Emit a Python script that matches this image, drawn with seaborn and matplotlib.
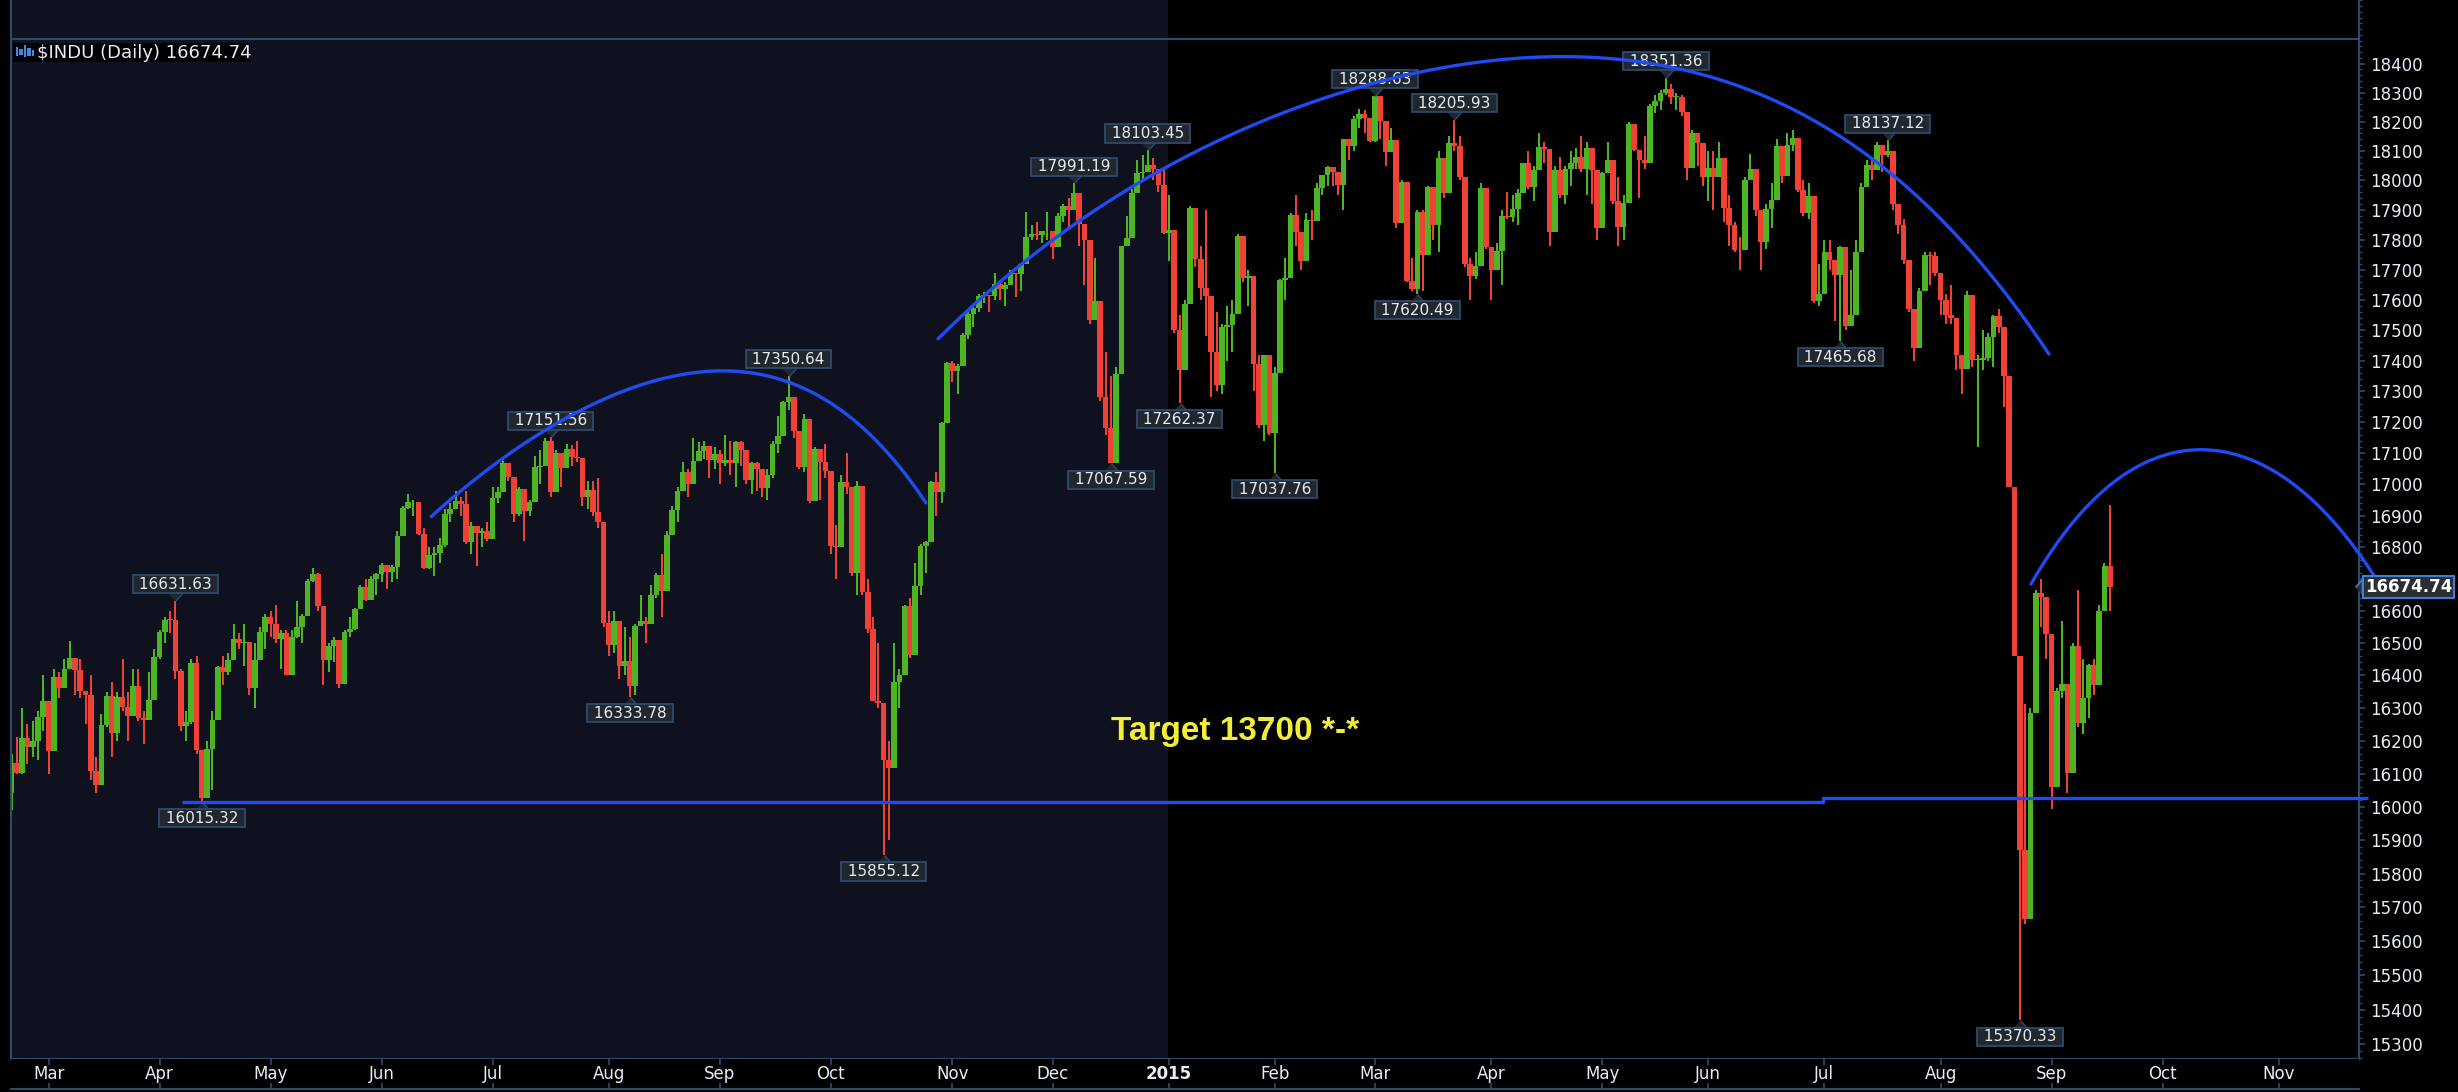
import numpy as np
import pandas as pd
import matplotlib
matplotlib.use("Agg")
import matplotlib.pyplot as plt
import matplotlib.transforms as mtransforms
from matplotlib.patches import Rectangle
from matplotlib.ticker import FixedLocator, FixedFormatter, NullFormatter
import seaborn as sns

# ---------------------------------------------------------------- data
first_session = "2014-02-20"
axis_last_day = "2015-11-30"
market_holidays = ["2014-04-18", "2014-05-26", "2014-07-04", "2014-09-01", "2014-11-27",
                   "2014-12-25", "2015-01-01", "2015-01-19", "2015-02-16", "2015-04-03",
                   "2015-05-25", "2015-07-03", "2015-09-07", "2015-11-26"]
first_open = 16040.0

closes = [
    16133, 16103, 16207, 16179, 16198, 16272, 16321,
    16168, 16395, 16360, 16421, 16453, 16418, 16351, 16340, 16109, 16065, 16247, 16337, 16223, 16332, 16303, 16276, 16368, 16269, 16264, 16323, 16458,
    16533, 16573, 16572, 16413, 16246, 16256, 16438, 16171, 16027, 16174, 16263, 16425, 16409, 16449, 16514, 16501, 16502, 16361, 16448, 16535, 16581,
    16558, 16513, 16531, 16402, 16518, 16551, 16584, 16695, 16715, 16614, 16447, 16491, 16511, 16374, 16533, 16543, 16606, 16676, 16634, 16699, 16717,
    16743, 16722, 16737, 16836, 16924, 16943, 16945, 16843, 16734, 16776, 16781, 16808, 16906, 16921, 16947, 16937, 16818, 16868, 16846, 16851, 16827,
    16956, 16976, 17068, 17024, 16906, 16985, 16915, 16944, 17055, 17060, 17138, 16976, 17100, 17052, 17113, 17087, 17083, 16961, 16982, 16912, 16881, 16563,
    16493, 16569, 16429, 16443, 16368, 16553, 16569, 16560, 16651, 16713, 16662, 16839, 16919, 16979, 17039, 17001, 17076, 17106, 17122, 17079, 17098,
    17067, 17078, 17069, 17137, 17111, 17014, 17068, 17049, 16988, 17031, 17131, 17156, 17266, 17280, 17173, 17056, 17211, 16946, 17113, 17071, 17043,
    16805, 16802, 17009, 16992, 16720, 16994, 16660, 16544, 16321, 16316, 16142, 16117, 16380, 16400, 16615, 16462, 16677, 16805, 16818, 17006, 16975, 17196, 17391,
    17366, 17384, 17485, 17554, 17573, 17614, 17615, 17612, 17652, 17635, 17648, 17688, 17686, 17719, 17810, 17818, 17815, 17828, 17828,
    17777, 17880, 17912, 17900, 17959, 17853, 17801, 17533, 17597, 17281, 17180, 17069, 17356, 17778, 17805, 17959, 18024, 18030, 18053, 18038, 17983, 17823,
    17833, 17501, 17371, 17585, 17908, 17737, 17640, 17613, 17427, 17321, 17512, 17516, 17554, 17813, 17672, 17679, 17388, 17191, 17417, 17165,
    17361, 17666, 17673, 17885, 17825, 17729, 17868, 17863, 17973, 18019, 18047, 18029, 17986, 18140, 18117, 18209, 18225, 18214, 18133,
    18288, 18204, 18097, 18136, 17857, 17996, 17662, 17635, 17895, 17749, 17977, 17849, 18076, 17959, 18128, 18116, 18012, 17718, 17679, 17712, 17976, 17776,
    17698, 17763, 17881, 17875, 17902, 17958, 18058, 17977, 18036, 18113, 18106, 17826, 18034, 17950, 18039, 18058, 18080, 18038, 18110, 18036, 17841,
    18024, 18070, 17929, 17842, 17925, 18191, 18105, 18068, 18060, 18253, 18272, 18298, 18312, 18285, 18285, 18232, 18042, 18163, 18126, 18011,
    18041, 18011, 18077, 17906, 17849, 17766, 17765, 18000, 18039, 17899, 17792, 17905, 17935, 18116, 18015, 18120, 18144, 17967, 17891, 17947, 17597, 17620,
    17758, 17731, 17684, 17776, 17515, 17549, 17761, 17978, 18054, 18035, 18120, 18086, 18101, 17920, 17851, 17732, 17569, 17441, 17631, 17751, 17746, 17690,
    17599, 17551, 17541, 17419, 17373, 17615, 17402, 17403, 17409, 17477, 17546, 17512, 17349, 16991, 16460, 15871, 15666, 16285, 16655, 16643, 16528,
    16058, 16351, 16374, 16102, 16492, 16253, 16330, 16433, 16370, 16599, 16740, 16675,
]

highs = [
    16160, 16210, 16300, 16250, 16260, 16290, 16400,
    16321, 16420, 16410, 16450, 16505, 16453, 16450, 16350, 16400, 16150, 16280, 16350, 16380, 16350, 16450, 16350, 16420, 16420, 16290, 16410, 16480,
    16540, 16580, 16600, 16631.63, 16420, 16290, 16450, 16460, 16170, 16200, 16290, 16430, 16460, 16470, 16560, 16530, 16560, 16500, 16500, 16550, 16590,
    16600, 16620, 16540, 16540, 16540, 16630, 16590, 16700, 16735, 16720, 16614, 16500, 16520, 16510, 16540, 16580, 16610, 16680, 16700, 16710, 16720,
    16750, 16743, 16745, 16850, 16930, 16970, 16950, 16945, 16860, 16800, 16800, 16830, 16920, 16940, 16980, 16960, 16980, 16880, 16868, 16860, 16880,
    16990, 16990, 17075, 17068, 17024, 16990, 16985, 16950, 17090, 17110, 17150, 17151.56, 17110, 17100, 17130, 17125, 17140, 17083, 17010, 17010, 17020, 16881,
    16600, 16600, 16569, 16550, 16520, 16560, 16650, 16580, 16680, 16720, 16780, 16850, 16930, 16990, 17070, 17050, 17150, 17135, 17140, 17122, 17120,
    17110, 17160, 17140, 17140, 17140, 17111, 17070, 17070, 17049, 17050, 17140, 17220, 17270, 17350.64, 17280, 17173, 17225, 17211, 17120, 17080, 17130,
    17043, 16870, 17030, 17100, 16992, 17010, 16994, 16700, 16580, 16500, 16316, 16200, 16500, 16420, 16620, 16640, 16750, 16810, 16820, 17010, 17040, 17200, 17395,
    17400, 17390, 17490, 17560, 17580, 17620, 17625, 17615, 17690, 17660, 17660, 17700, 17690, 17720, 17895, 17850, 17860, 17830, 17895,
    17828, 17890, 17920, 17940, 17991.19, 17959, 17853, 17801, 17740, 17597, 17430, 17350, 17380, 17780, 17880, 17970, 18070, 18086, 18103.45, 18075, 18038, 18040,
    17950, 17833, 17550, 17600, 17915, 17908, 17780, 17900, 17613, 17560, 17520, 17580, 17600, 17820, 17813, 17700, 17679, 17420, 17420, 17400,
    17380, 17670, 17740, 17890, 17950, 17825, 17890, 17900, 17990, 18020, 18050, 18047, 18030, 18140, 18140, 18220, 18245, 18240, 18214,
    18288.63, 18288, 18204, 18180, 18136, 18000, 17996, 17740, 17900, 17900, 17980, 17977, 18100, 18076, 18150, 18205.93, 18150, 18012, 17740, 17760, 17990, 17976,
    17776, 17790, 17900, 17960, 17950, 17970, 18060, 18100, 18050, 18160, 18130, 18106, 18050, 18080, 18050, 18100, 18110, 18150, 18130, 18110, 18036,
    18030, 18130, 18070, 18010, 17950, 18200, 18191, 18105, 18150, 18260, 18290, 18310, 18351.36, 18330, 18300, 18290, 18232, 18170, 18163, 18126,
    18100, 18100, 18130, 18077, 17950, 17860, 17810, 18010, 18090, 18039, 17899, 17920, 17990, 18140, 18116, 18160, 18170, 18144, 18000, 17990, 17947, 17720,
    17800, 17800, 17731, 17780, 17776, 17700, 17800, 17990, 18070, 18080, 18130, 18120, 18137.12, 18101, 17920, 17870, 17732, 17569, 17640, 17760, 17760, 17760,
    17690, 17620, 17650, 17541, 17419, 17630, 17615, 17420, 17500, 17490, 17550, 17570, 17512, 17349, 16991, 16460, 16312, 16300, 16666, 16700, 16643,
    16528, 16360, 16570, 16374, 16500, 16665, 16450, 16435, 16450, 16620, 16750, 16933,
]

lows = [
    15990, 16100, 16100, 16130, 16150, 16140, 16230,
    16100, 16170, 16330, 16360, 16420, 16340, 16330, 16250, 16080, 16040, 16065, 16240, 16150, 16200, 16290, 16200, 16280, 16260, 16190, 16264, 16323,
    16450, 16500, 16530, 16390, 16230, 16200, 16250, 16160, 16015.32, 16027, 16050, 16265, 16370, 16400, 16450, 16480, 16430, 16340, 16300, 16448, 16480,
    16520, 16500, 16420, 16400, 16400, 16515, 16500, 16584, 16690, 16600, 16370, 16410, 16440, 16360, 16375, 16520, 16540, 16606, 16630, 16634, 16650,
    16690, 16670, 16690, 16700, 16836, 16920, 16900, 16840, 16730, 16730, 16710, 16750, 16800, 16880, 16920, 16900, 16810, 16780, 16740, 16800, 16820,
    16827, 16940, 16976, 17010, 16880, 16900, 16820, 16900, 16944, 17000, 17060, 16960, 16976, 16990, 17052, 17060, 17070, 16930, 16920, 16900, 16860, 16550,
    16460, 16470, 16390, 16400, 16333.78, 16340, 16553, 16500, 16560, 16640, 16580, 16662, 16839, 16880, 16979, 16960, 17001, 17076, 17080, 17020, 17050,
    17000, 17060, 17030, 16990, 17060, 17000, 16970, 16980, 16960, 16950, 17020, 17100, 17156, 17240, 17150, 17050, 17040, 16940, 16946, 16950, 17020,
    16780, 16700, 16802, 16970, 16710, 16650, 16650, 16530, 16320, 16300, 15855.12, 15900, 16117, 16300, 16400, 16455, 16462, 16650, 16720, 16818, 16900, 16940, 17250,
    17330, 17290, 17384, 17470, 17510, 17560, 17590, 17560, 17600, 17600, 17580, 17648, 17610, 17630, 17719, 17800, 17800, 17790, 17800,
    17735, 17777, 17860, 17840, 17900, 17780, 17650, 17520, 17533, 17270, 17160, 17067.59, 17069, 17356, 17778, 17805, 17959, 18000, 18030, 18000, 17960, 17820,
    17730, 17490, 17262.37, 17371, 17585, 17710, 17600, 17480, 17280, 17300, 17290, 17400, 17430, 17554, 17660, 17580, 17300, 17180, 17140, 17160,
    17037.76, 17361, 17600, 17673, 17780, 17700, 17729, 17800, 17863, 17950, 17980, 17980, 17950, 17900, 18070, 18100, 18180, 18160, 18130,
    18130, 18140, 18050, 18097, 17840, 17857, 17660, 17630, 17620.49, 17630, 17749, 17800, 17760, 17940, 17959, 18100, 18000, 17710, 17600, 17670, 17712, 17770,
    17600, 17698, 17650, 17870, 17860, 17850, 17958, 17970, 17930, 18036, 18060, 17780, 17826, 17940, 17920, 17980, 18040, 18030, 17950, 17920, 17800,
    17841, 18024, 17920, 17780, 17800, 17925, 18100, 17940, 18040, 18060, 18230, 18240, 18290, 18260, 18240, 18220, 18000, 18042, 18050, 17980,
    17930, 17900, 18011, 17860, 17780, 17760, 17700, 17765, 18000, 17880, 17700, 17770, 17840, 17935, 17990, 18015, 18100, 17960, 17880, 17870, 17590, 17580,
    17620, 17700, 17530, 17465.68, 17500, 17515, 17549, 17761, 17978, 18000, 18035, 18030, 18080, 17900, 17820, 17720, 17560, 17400, 17441, 17631, 17650, 17680,
    17550, 17520, 17520, 17370, 17290, 17373, 17380, 17120, 17370, 17400, 17380, 17490, 17250, 16990, 16460, 15370.33, 15651, 15666, 16285, 16550, 16450,
    15993, 16058, 16330, 16040, 16102, 16240, 16220, 16270, 16340, 16370, 16599, 16600,
]

label_dates = ["2014-04-04", "2014-04-11", "2014-07-17", "2014-08-07", "2014-09-19", "2014-10-15",
               "2014-12-05", "2014-12-16", "2014-12-26", "2015-01-06", "2015-02-02", "2015-03-02",
               "2015-03-12", "2015-03-23", "2015-05-19", "2015-07-07", "2015-07-20", "2015-08-24"]
label_values = [16631.63, 16015.32, 17151.56, 16333.78, 17350.64, 15855.12,
                17991.19, 17067.59, 18103.45, 17262.37, 17037.76, 18288.63,
                17620.49, 18205.93, 18351.36, 17465.68, 18137.12, 15370.33]
label_sides = ["high", "low", "high", "low", "high", "low",
               "high", "low", "high", "low", "low", "high",
               "low", "high", "high", "low", "high", "low"]

last_price = 16674.74
ticker_title = "$INDU (Daily) 16674.74"
target_text = "Target 13700 *-*"
target_date = "2014-12-16"
target_price = 16203

price_ticks = list(range(15300, 18401, 100))
hidden_tick = 16700   # covered by the last-price tag in the reference

# hand-drawn annotation lines (trading-day index, price)
support_x = [32.2, 342.75, 342.75, 445.9]
support_p = [16015.32, 16015.32, 16027, 16027]
arc1_x = [79.4, 100.5, 130.9, 154.6, 173.0]
arc1_p = [16897, 17169, 17364, 17266, 16941]
arc2_x = [175.3, 197.05, 215.9, 254.95, 290.55, 312.85, 351.25, 370.8, 385.5]
arc2_p = [17468, 17811, 18013, 18309, 18436, 18395, 18058, 17788, 17412]
arc3_x = [382.1, 398.3, 416.0, 429.8, 447.75]
arc3_p = [16684, 17014, 17110, 17024, 16691]

# ---------------------------------------------------------------- style
W, H = 2458, 1092
NAVY = "#0f121e"
BORDER = "#2b4b6e"
GREEN = "#4db524"
RED = "#ef4136"
BLUE = "#1f4cf2"
TXT = "#e6edf5"
BOXFC = "#22262d"

sns.set_theme(style="dark", rc={"axes.facecolor": "black", "figure.facecolor": "black"})
plt.rcParams["font.family"] = ["DejaVu Sans"]

sess = pd.bdate_range(first_session, axis_last_day)
sess = sess[~sess.isin(pd.to_datetime(market_holidays))]
pos = np.arange(len(sess), dtype=float)

c = np.array(closes, dtype=float)
h = np.array(highs, dtype=float)
l = np.array(lows, dtype=float)
n = len(c)
x = pos[:n]
o = np.r_[first_open, c[:-1]]
h = np.maximum(h, np.maximum(o, c))
l = np.minimum(l, np.minimum(o, c))
col = np.where(c >= o, GREEN, RED)

fig = plt.figure(figsize=(W / 100, H / 100), dpi=100, facecolor="black")
ax = fig.add_axes([11 / W, (H - 1059) / H, 2348 / W, 1059 / H])
ax.set_facecolor("black")
ax.set_yscale("log")
x_left = 7 + (11 - 48.6) / 5.285
x_right = x_left + 2348 / 5.285
ax.set_xlim(x_left, x_right)
ax.set_ylim(15258.3, 18621.4)
ax.grid(False)

pos_2015 = pos[np.argmax(sess.year == 2015)]
ax.axvspan(x_left, pos_2015 - 0.1, color=NAVY, lw=0, zorder=0)

# candles
ax.vlines(x, l, h, colors=col, lw=1.45, zorder=2)
ax.bar(x, np.maximum(np.abs(c - o), 2.0), bottom=np.minimum(o, c), width=1.08,
       color=col, linewidth=0, zorder=2.2)

# spines / axes
for s in ["left", "right", "bottom"]:
    ax.spines[s].set_visible(True)
    ax.spines[s].set_color(BORDER)
    ax.spines[s].set_linewidth(1.5)
ax.spines["top"].set_visible(False)
ax.plot([0, 1], [1 - 39 / 1059] * 2, transform=ax.transAxes, color=BORDER, lw=1.5,
        clip_on=False, zorder=1)

ax.yaxis.tick_right()
ax.yaxis.set_major_locator(FixedLocator(price_ticks))
ax.yaxis.set_major_formatter(FixedFormatter(["" if v == hidden_tick else str(v)
                                             for v in price_ticks]))
ax.yaxis.set_minor_locator(FixedLocator(np.arange(15260, 18621, 20)))
ax.yaxis.set_minor_formatter(NullFormatter())
ax.tick_params(axis="y", which="major", direction="out", length=4, width=1.2, color=BORDER,
               labelcolor=TXT, labelsize=12, pad=4, right=True, left=False,
               labelright=True, labelleft=False)
ax.tick_params(axis="y", which="minor", direction="out", length=2.5, width=1.0,
               color=BORDER, right=True, left=False)

# support line and arcs
ax.plot(support_x, support_p, color=BLUE, lw=2.4, clip_on=False, zorder=5,
        solid_capstyle="butt")
for ax_x, ax_p in [(arc1_x, arc1_p), (arc2_x, arc2_p), (arc3_x, arc3_p)]:
    poly = np.polynomial.Polynomial.fit(ax_x, np.log(ax_p), deg=4)
    xx = np.linspace(ax_x[0], ax_x[-1], 400)
    yy = np.exp(poly(xx))
    sns.lineplot(x=xx, y=yy, ax=ax, color=BLUE, lw=2.4, sort=False, estimator=None,
                 legend=False, clip_on=False, zorder=5)
ax.set_xlabel("")
ax.set_ylabel("")

# swing labels
for d, v, side in zip(label_dates, label_values, label_sides):
    xp = pos[sess.get_loc(pd.Timestamp(d))]
    if side == "high":
        verts = [(-9, 10), (9, 10), (0, 0)]
        off, va = 9, "bottom"
    else:
        verts = [(-9, -10), (9, -10), (0, 0)]
        off, va = -9, "top"
    ax.plot([xp], [v], ls="none", marker=verts, ms=14.4, mfc=BOXFC, mec=BORDER, mew=1.0,
            zorder=4, clip_on=False)
    ax.annotate(f" {v:.2f} ", (xp, v), xytext=(0, off), textcoords="offset pixels",
                ha="center", va=va, fontsize=11, color=TXT, zorder=4.5,
                bbox=dict(boxstyle="square,pad=0.1", fc=BOXFC, ec=BORDER, lw=1.3))

# last price tag
ptr = mtransforms.offset_copy(ax.transData, fig=fig, x=3, y=0, units="dots")
ax.plot([x_right], [last_price], ls="none", marker=[(0, -8), (0, 8), (-7, 0)], ms=11.5,
        mfc="#2a2d33", mec="#3b7fd4", mew=1.2, transform=ptr, clip_on=False, zorder=9)
ax.annotate(f"{last_price:.2f}", xy=(1, last_price), xycoords=("axes fraction", "data"),
            xytext=(6, 0), textcoords="offset pixels", ha="left", va="center",
            fontsize=12, fontweight="bold", color="white", zorder=10, annotation_clip=False,
            bbox=dict(boxstyle="square,pad=0.12", fc="#2a2d33", ec="#3b7fd4", lw=1.5))

# target text
ax.text(pos[sess.get_loc(pd.Timestamp(target_date))], target_price, target_text,
        fontsize=24, fontweight="bold", family=["Liberation Sans", "DejaVu Sans"],
        color="#f2ec3c", ha="left", va="baseline", zorder=6)

# month strip
axs = fig.add_axes([11 / W, (H - 1089) / H, 2348 / W, 30 / H], sharex=ax)
axs.set_facecolor("black")
axs.set_yticks([])
axs.grid(False)
for s in ["left", "right", "top"]:
    axs.spines[s].set_visible(False)
axs.spines["bottom"].set_visible(True)
axs.spines["bottom"].set_color(BORDER)
axs.spines["bottom"].set_linewidth(1.5)
months = pd.period_range("2014-03", "2015-11", freq="M")
sess_months = sess.to_period("M")
month_pos = [pos[np.argmax(sess_months == m)] for m in months]
month_labels = [str(m.year) if m.month == 1 else m.strftime("%b") for m in months]
axs.set_xticks(month_pos)
axs.tick_params(axis="x", direction="in", length=4, width=1.2, color=BORDER,
                top=True, bottom=True, labelbottom=False, labeltop=False)
ax.tick_params(axis="x", bottom=False, top=False, labelbottom=False, labeltop=False)
btrans = mtransforms.blended_transform_factory(axs.transData, axs.transAxes)
for p, lab in zip(month_pos, month_labels):
    axs.text(p, 0.5, lab, transform=btrans, ha="center", va="center", fontsize=12,
             color=TXT, fontweight="bold" if lab.isdigit() else "normal")

# title tag (top-left)
fig.add_artist(Rectangle((12.7 / W, 1 - 62 / H), 237 / W, 19 / H,
                         transform=fig.transFigure, fc="black", ec="none", zorder=5))
for (ix, iy, iw, ih) in [(16, 47, 2, 9), (19, 49, 4, 6), (24, 45, 2, 12), (27, 48, 4, 8), (32, 50, 2, 6)]:
    fig.add_artist(Rectangle((ix / W, 1 - (iy + ih) / H), iw / W, ih / H,
                             transform=fig.transFigure, fc="#3d8ae0", ec="none", zorder=6))
fig.text(37 / W, 1 - 52.5 / H, ticker_title, ha="left", va="center", fontsize=13,
         color=TXT, zorder=7, parse_math=False)

fig.savefig("out.png", dpi=100, facecolor="black")
